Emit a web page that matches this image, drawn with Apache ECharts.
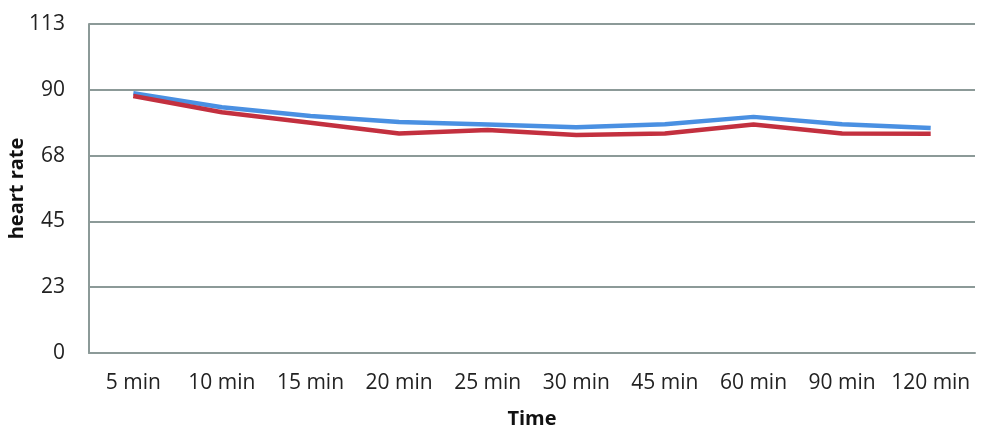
<!DOCTYPE html>
<html>
<head>
<meta charset="utf-8">
<script src="https://cdn.jsdelivr.net/npm/echarts@6/dist/echarts.min.js"></script>
<style>html,body{margin:0;padding:0;background:#fff}#c{width:994px;height:436px}</style>
</head>
<body>
<div id="c"></div>
<script>
var categories = ['5 min','10 min','15 min','20 min','25 min','30 min','45 min','60 min','90 min','120 min'];
var seriesBlue = [89.2, 84.4, 81.4, 79.3, 78.5, 77.5, 78.6, 81.1, 78.6, 77.3];
var seriesRed = [88.3, 82.7, 79.1, 75.4, 76.6, 74.9, 75.4, 78.5, 75.4, 75.3];
var yMin = 0, yMax = 113, yInterval = 22.6;

var chart = echarts.init(document.getElementById('c'));
var font = '"Open Sans", "Liberation Sans", sans-serif';
chart.setOption({
  animation: false,
  grid: {left: 89, right: 19, top: 24, bottom: 83, containLabel: false, outerBoundsMode: 'none'},
  xAxis: {
    type: 'category',
    data: categories,
    boundaryGap: true,
    axisLine: {show: true, lineStyle: {color: '#8c9a98', width: 2}},
    axisTick: {show: false},
    axisLabel: {color: '#222', fontSize: 21, fontFamily: font, margin: 20, interval: 0, hideOverlap: false},
    name: 'Time',
    nameLocation: 'middle',
    nameGap: 56,
    nameMoveOverlap: false,
    nameTextStyle: {color: '#111', fontSize: 20, fontWeight: 'bold', fontFamily: font}
  },
  yAxis: {
    type: 'value',
    min: yMin, max: yMax, interval: yInterval,
    axisLine: {show: true, lineStyle: {color: '#8c9a98', width: 2}},
    axisTick: {show: false},
    splitLine: {show: true, lineStyle: {color: '#8c9a98', width: 2}},
    axisLabel: {color: '#222', fontSize: 21, fontFamily: font, margin: 24,
      formatter: function(v){ return Math.round(v); }},
    name: 'heart rate',
    nameLocation: 'middle',
    nameGap: 62,
    nameMoveOverlap: false,
    nameTextStyle: {color: '#111', fontSize: 20, fontWeight: 'bold', fontFamily: font}
  },
  series: [
    {type: 'line', data: seriesBlue, symbol: 'none', lineStyle: {color: '#4a90e2', width: 4.5}, itemStyle: {color: '#4a90e2'}},
    {type: 'line', data: seriesRed, symbol: 'none', lineStyle: {color: '#c3303f', width: 4.5}, itemStyle: {color: '#c3303f'}}
  ]
});
</script>
</body>
</html>
